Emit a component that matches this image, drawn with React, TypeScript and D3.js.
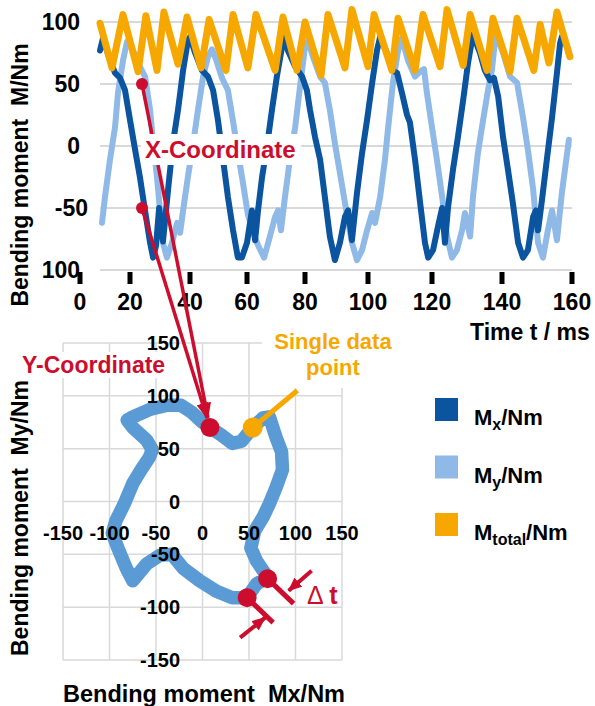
import React from 'react';
import * as d3 from 'd3';

type P = [number, number];

// ---------- data ----------
const timeTicks = [0, 20, 40, 60, 80, 100, 120, 140, 160];
const momentTicks = [100, 50, 0, -50, -100];
const momentTickLabels = ['100', '50', '0', '-50', '100'];
const loopTicks = [-150, -100, -50, 0, 50, 100, 150];

// time [ms], Mx [Nm]
const mxSeries: P[] = [[8.0,77],[9.2,87],[12.0,69],[14.0,59],[16.0,55],[18.0,45],[20.0,21],[21.7,-3],[23.3,-25],[25.0,-52],[26.7,-78],[27.7,-90],[28.7,-80],[29.7,-50],[31.0,-77],[32.7,-35],[34.3,2],[36.0,29],[37.7,61],[39.3,85],[40.0,88],[41.8,75],[44.2,61],[46.3,56],[48.1,45],[49.8,21],[51.6,-11],[53.3,-41],[55.1,-68],[56.8,-90],[58.2,-90],[60.0,-78],[61.7,-52],[62.8,-76],[63.8,-52],[65.2,-25],[66.9,0],[68.6,29],[70.3,56],[72.1,80],[72.8,90],[74.1,77],[76.6,64],[79.0,56],[80.6,45],[81.6,29],[83.2,7],[84.8,-11],[86.3,-41],[87.9,-73],[89.5,-92],[91.1,-78],[92.7,-57],[93.7,-52],[94.9,-76],[96.5,-38],[98.1,-6],[99.7,21],[101.3,51],[102.8,77],[103.8,88],[105.9,75],[107.5,61],[109.1,59],[110.6,43],[112.2,25],[113.1,19],[114.7,-11],[116.3,-46],[117.8,-78],[118.8,-90],[120.3,-84],[121.7,-65],[122.9,-50],[123.7,-78],[124.6,-49],[126.0,-19],[127.4,7],[128.9,37],[130.3,67],[131.4,85],[131.7,90],[133.7,75],[135.1,61],[136.6,53],[137.7,55],[138.9,40],[140.3,7],[141.7,-19],[143.1,-46],[144.6,-78],[146.0,-90],[147.4,-84],[148.9,-57],[149.7,-52],[150.3,-68],[151.4,-44],[152.9,-9],[154.3,23],[155.7,59],[156.6,83],[157.1,88],[158.6,80],[159.4,72]];

// time [ms], My [Nm]
const mySeries: P[] = [[8.8,-62],[10.0,-41],[12.0,-11],[14.0,15],[15.2,43],[17.2,69],[18.8,84],[19.2,85],[21.0,77],[23.3,64],[25.0,56],[26.7,29],[27.7,2],[29.0,-25],[30.0,-52],[31.0,-78],[32.3,-90],[34.0,-78],[35.7,-62],[36.7,-70],[37.7,-52],[39.3,-25],[41.1,2],[42.8,29],[44.6,56],[46.3,72],[47.7,78],[49.1,70],[51.2,55],[53.3,45],[55.1,20],[56.8,-5],[58.6,-30],[60.3,-55],[62.1,-70],[63.8,-80],[65.9,-90],[67.9,-73],[69.7,-57],[70.7,-52],[71.7,-68],[73.1,-41],[74.8,-11],[76.6,15],[78.3,48],[80.0,80],[81.0,85],[82.5,72],[84.8,56],[86.3,51],[87.9,29],[89.5,2],[91.1,-22],[92.7,-46],[94.9,-78],[96.5,-92],[98.1,-84],[99.7,-68],[101.3,-54],[102.2,-62],[103.8,-41],[105.3,-11],[106.3,15],[107.8,51],[109.4,77],[110.6,87],[112.5,69],[114.7,56],[116.3,60],[117.5,62],[118.4,43],[120.0,15],[121.4,-11],[122.9,-41],[124.3,-73],[125.7,-90],[127.1,-84],[128.6,-68],[129.4,-54],[130.9,-73],[131.7,-41],[133.1,-6],[134.6,21],[136.0,45],[137.1,61],[138.0,85],[138.6,88],[140.3,75],[142.3,56],[144.3,51],[146.0,23],[147.4,-3],[148.9,-35],[150.3,-78],[151.7,-90],[153.1,-68],[154.3,-52],[155.7,-76],[157.1,-38],[158.6,-6],[159.1,5]];

// time [ms], Mtotal [Nm]
const mTotalSeries: P[] = [[8.0,99],[12.8,63],[17.2,106],[22.7,60],[25.3,105],[29.0,61],[31.3,108],[36.0,66],[39.0,104],[43.9,63],[46.7,102],[52.6,61],[55.1,106],[60.3,63],[63.1,106],[69.7,61],[72.4,104],[77.2,61],[80.0,100],[85.1,57],[87.3,106],[92.7,63],[94.9,110],[100.0,64],[101.9,106],[107.5,61],[109.4,103],[114.7,61],[117.2,106],[122.3,64],[124.3,110],[128.9,65],[130.9,106],[135.7,61],[137.4,103],[142.3,60],[144.3,103],[149.1,61],[150.9,98],[153.4,67],[155.7,108],[159.4,72]];

// Mx, My trajectory [Nm]
const loopSeries: P[] = [[0,75],[8,70],[20,63],[32,55],[42,57],[54,70],[65,79],[72,80],[79,61],[85,47],[86,30],[79,13],[72,-2],[65,-15],[56,-28],[52,-44],[58,-56],[68,-69],[68,-73],[58,-78],[48,-91],[32,-91],[15,-85],[-3,-75],[-21,-63],[-33,-50],[-46,-51],[-60,-59],[-75,-75],[-82,-63],[-91,-44],[-97,-30],[-93,-18],[-84,-2],[-75,17],[-66,30],[-57,42],[-54,49],[-60,58],[-75,70],[-81,77],[-75,80],[-57,87],[-39,91],[-23,91],[-11,84],[0,75]];

// annotation anchors (data units)
const xCoordPoints: P[] = [[24, 50], [24, -50]];
const yCoordPoint: P = [8, 70];
const singlePoint: P = [54, 70];
const singleLabelAnchor: P = [102, 105];
const deltaPoints: P[] = [[70, -73], [48, -91]];

const legendSubs = ['x', 'y', 'total'];

// ---------- style ----------
const FONT = "'Liberation Sans', Arial, Helvetica, sans-serif";
const C_MX = '#0a54a0';
const C_MY = '#8fb9e6';
const C_MT = '#f6a800';
const C_LOOP = '#5b9bd5';
const RED = '#cc0d2d';
const GRID = '#d9d9d9';
const legendColors = [C_MX, C_MY, C_MT];

export default function App() {
  const xTop = d3.scaleLinear().domain(timeTicks).range([80, 130, 190, 247, 305, 368, 432, 502, 572]);
  const yTop = d3.scaleLinear().domain([-100, 100]).range([270, 22]);
  const lineTop = d3.line<P>().x(d => xTop(d[0])).y(d => yTop(d[1]));

  const xB = d3.scaleLinear().domain([-150, 150]).range([63, 342]);
  const yB = d3.scaleLinear().domain([-150, 150]).range([660, 343]);
  const lineB = d3.line<P>().x(d => xB(d[0])).y(d => yB(d[1]));

  const gridX0 = xTop(8), gridX1 = xTop(160);

  const target = [xB(yCoordPoint[0]), yB(yCoordPoint[1])];
  const arrows = xCoordPoints.map(p => {
    const sx = xTop(p[0]), sy = yTop(p[1]);
    const dx = target[0] - sx, dy = target[1] - sy;
    const L = Math.hypot(dx, dy);
    return { sx, sy, ex: target[0] - (dx / L) * 10, ey: target[1] - (dy / L) * 10 };
  });

  const sp = [xB(singlePoint[0]), yB(singlePoint[1])];
  const sl = [xB(singleLabelAnchor[0]), yB(singleLabelAnchor[1])];
  const dp = deltaPoints.map(p => [xB(p[0]), yB(p[1])]);

  return (
    <svg width={595} height={706} style={{ position: 'absolute', left: 0, top: 0, background: '#fff' }} fontFamily={FONT}>
      <defs>
        <marker id="ahBig" viewBox="0 0 16 12" refX="15" refY="6" markerWidth="16" markerHeight="12" markerUnits="userSpaceOnUse" orient="auto">
          <path d="M0,0 L16,6 L0,12 z" fill={RED} />
        </marker>
        <marker id="ahSmall" viewBox="0 0 14 12" refX="13" refY="6" markerWidth="14" markerHeight="12" markerUnits="userSpaceOnUse" orient="auto">
          <path d="M0,0 L14,6 L0,12 z" fill={RED} />
        </marker>
      </defs>

      {/* ---------- top chart ---------- */}
      {momentTicks.map(v => (
        <line key={'g' + v} x1={gridX0} x2={gridX1} y1={yTop(v)} y2={yTop(v)} stroke={GRID} strokeWidth={2} />
      ))}
      <path d={lineTop(mySeries) || ''} fill="none" stroke={C_MY} strokeWidth={6} strokeLinejoin="round" strokeLinecap="round" />
      <path d={lineTop(mxSeries) || ''} fill="none" stroke={C_MX} strokeWidth={6} strokeLinejoin="round" strokeLinecap="round" />
      <path d={lineTop(mTotalSeries) || ''} fill="none" stroke={C_MT} strokeWidth={7} strokeLinejoin="round" strokeLinecap="round" />

      {momentTicks.map((v, i) => (
        <text key={'yl' + v} x={v === -50 ? 88 : 80} y={yTop(v) + 8} textAnchor="end" fontSize={23} fontWeight="bold" fill="#000">
          {momentTickLabels[i]}
        </text>
      ))}
      {timeTicks.map(t => (
        <g key={'xt' + t}>
          <rect x={xTop(t) - 2.5} y={272} width={5} height={12} fill="#000" />
          <text x={xTop(t)} y={310} textAnchor="middle" fontSize={23} fontWeight="bold" fill="#000">{t}</text>
        </g>
      ))}
      <text x={470} y={340} fontSize={23} fontWeight="bold" fill="#000">Time t / ms</text>
      <text transform={`translate(28,${175}) rotate(-90)`} textAnchor="middle" fontSize={23} fontWeight="bold" fill="#000" style={{ whiteSpace: 'pre' }}>
        {'Bending moment  M/Nm'}
      </text>

      {/* ---------- bottom chart ---------- */}
      {loopTicks.map(v => (
        <line key={'bv' + v} x1={xB(v)} x2={xB(v)} y1={yB(-150)} y2={yB(150)} stroke={GRID} strokeWidth={1.5} />
      ))}
      {loopTicks.map(v => (
        <line key={'bh' + v} x1={xB(-150)} x2={xB(150)} y1={yB(v)} y2={yB(v)} stroke={GRID} strokeWidth={1.5} />
      ))}
      <path d={lineB(loopSeries) || ''} fill="none" stroke={C_LOOP} strokeWidth={13.5} strokeLinejoin="round" strokeLinecap="round" />

      {loopTicks.map(v => (
        <text key={'bxl' + v} x={xB(v)} y={540} textAnchor="middle" fontSize={20} fontWeight="bold" fill="#000">{v}</text>
      ))}
      {loopTicks.map(v => (
        <text key={'byl' + v} x={180} y={yB(v) + 7} textAnchor="end" fontSize={20} fontWeight="bold" fill="#000">{v}</text>
      ))}
      <text x={204} y={702} textAnchor="middle" fontSize={23.5} fontWeight="bold" fill="#000" style={{ whiteSpace: 'pre' }}>
        {'Bending moment  Mx/Nm'}
      </text>
      <text transform={`translate(28,${518}) rotate(-90)`} textAnchor="middle" fontSize={23} fontWeight="bold" fill="#000" style={{ whiteSpace: 'pre' }}>
        {'Bending moment  My/Nm'}
      </text>

      {/* ---------- annotations ---------- */}
      {arrows.map((a, i) => (
        <line key={'ar' + i} x1={a.sx} y1={a.sy} x2={a.ex} y2={a.ey} stroke={RED} strokeWidth={3.5} markerEnd="url(#ahBig)" />
      ))}
      <rect x={141} y={134} width={160} height={31} fill="#fff" />
      <text x={145} y={158} fontSize={24} fontWeight="bold" fill={RED}>X-Coordinate</text>
      {arrows.map((a, i) => (
        <circle key={'ad' + i} cx={a.sx} cy={a.sy} r={6} fill={RED} />
      ))}

      <rect x={18} y={352} width={155} height={26} fill="#fff" />
      <text x={22} y={373} fontSize={23} fontWeight="bold" fill={RED}>Y-Coordinate</text>
      <circle cx={target[0]} cy={target[1]} r={9.5} fill={RED} />

      <rect x={262} y={329} width={104} height={59} fill="#fff" />
      <text x={333} y={349} textAnchor="middle" fontSize={22} fontWeight="bold" fill={C_MT}>Single data</text>
      <text x={333} y={375} textAnchor="middle" fontSize={22} fontWeight="bold" fill={C_MT}>point</text>
      <line x1={sp[0]} y1={sp[1]} x2={sl[0]} y2={sl[1]} stroke={C_MT} strokeWidth={5} />
      <circle cx={sp[0]} cy={sp[1]} r={10} fill={C_MT} />

      {dp.map((p, i) => (
        <g key={'dt' + i}>
          <line x1={p[0]} y1={p[1]} x2={p[0] + 26} y2={p[1] + 25} stroke={RED} strokeWidth={5} />
          <circle cx={p[0]} cy={p[1]} r={9.5} fill={RED} />
        </g>
      ))}
      <line x1={dp[0][0] + 44} y1={dp[0][1] - 8} x2={dp[0][0] + 21} y2={dp[0][1] + 12} stroke={RED} strokeWidth={4} markerEnd="url(#ahSmall)" />
      <line x1={dp[1][0] - 7} y1={dp[1][1] + 40} x2={dp[1][0] + 18} y2={dp[1][1] + 20} stroke={RED} strokeWidth={4} markerEnd="url(#ahSmall)" />
      <text x={307} y={604} fontSize={25} fill={RED}>
        <tspan>Δ </tspan>
        <tspan fontWeight="bold">t</tspan>
      </text>

      {/* ---------- legend ---------- */}
      {legendSubs.map((s, i) => (
        <g key={'lg' + s} transform={`translate(0,${i * 57.5})`}>
          <rect x={435} y={398} width={23} height={23} fill={legendColors[i]} />
          <text x={474} y={425} fontSize={22} fontWeight="bold" fill="#000">
            <tspan>M</tspan>
            <tspan fontSize={16} dy={5}>{s}</tspan>
            <tspan dy={-5}>/Nm</tspan>
          </text>
        </g>
      ))}
    </svg>
  );
}
